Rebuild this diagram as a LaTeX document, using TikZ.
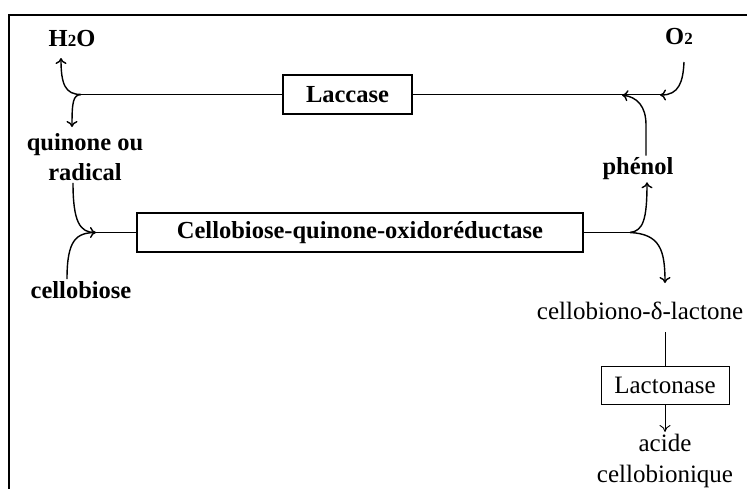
\documentclass[tikz,border=0pt]{standalone}
\usepackage{fontspec}
\setmainfont{Liberation Serif}
\usetikzlibrary{arrows.meta}
\begin{document}
\begin{tikzpicture}[x=1pt,y=-1pt,
  txt/.style={inner sep=2pt, font=\fontsize{25}{31}\selectfont},
  btxt/.style={inner sep=2pt, font=\fontsize{24.5}{30}\selectfont\bfseries},
  enzbox/.style={draw, line width=1.4pt, inner sep=0pt, font=\fontsize{24.5}{30}\selectfont\bfseries},
  thinbox/.style={draw, line width=0.9pt, inner sep=0pt, font=\fontsize{25}{31}\selectfont},
  flow/.style={line width=1.4pt},
  arr/.style={flow, -{To[length=6pt,width=11pt]}},
  thinarr/.style={line width=0.9pt, -{To[length=7pt,width=11pt]}},
]
\useasboundingbox (0,0) rectangle (747,488);

% frame
\draw[line width=2pt] (9,490) -- (9,15) -- (749,15);

% labels
\node[btxt] (h2o) at (72,39) {H{\fontsize{17}{17}\selectfont 2}O};
\node[btxt] (o2) at (679,37) {O{\fontsize{17}{17}\selectfont 2}};
\node[btxt, align=center] (quin) at (85,157) {quinone ou\\radical};
\node[btxt] (cellob) at (81,290) {cellobiose};
\node[btxt] (phen) at (638,169) {phénol};
\node[txt] (lactone) at (640,311) {cellobiono-δ-lactone};
\node[txt, align=center] (acide) at (665,461) {acide\\cellobionique};

% enzymes
\node[enzbox, minimum width=129pt, minimum height=39pt] (lacc) at (347.5,94.5) {Laccase};
\node[enzbox, minimum width=446pt, minimum height=39pt] (cor) at (360,232.5) {Cellobiose-quinone-oxidoréductase};
\node[thinbox, minimum width=128pt, minimum height=38pt] (lacto) at (665,385) {Lactonase};

% junctions
\coordinate (jl) at (81,94.5);
\coordinate (jr) at (662,94.5);
\coordinate (jin) at (96,232.5);
\coordinate (jout) at (630,232.5);

% laccase cycle
\draw[flow] (jl) -- (lacc.west);
\draw[flow] (lacc.east) -- (jr);
\draw[arr] (jl) .. controls (65,94.5) and (61,84) .. (61,58);
\draw[arr] (jl) .. controls (73,95) and (72,102) .. (72,127);
\draw[arr] (684,62) .. controls (683,82) and (679,95) .. (660,95);
\draw[arr] (phen.north -| 646,0) -- (646,125) .. controls (646,106) and (637,97) .. (622,95);

% cellobiose oxidation
\draw[arr] ([xshift=-12pt]quin.south) .. controls (73,222) and (80,232.5) .. (jin);
\draw[flow] ([xshift=-14pt]cellob.north) .. controls (67,240) and (76,232.5) .. (jin);
\draw[flow] (jin) -- (cor.west);
\draw[flow] (cor.east) -- (jout);
\draw[arr] (jout) .. controls (643,231) and (647,220) .. (phen.south -| 647,0);
\draw[arr] (jout) .. controls (660,234) and (665,250) .. (665,283);

% lactonase step
\draw[line width=0.9pt] (lacto.north) -- (665,332);
\draw[thinarr] (lacto.south) -- (acide.north -| lacto.south);
\end{tikzpicture}
\end{document}
